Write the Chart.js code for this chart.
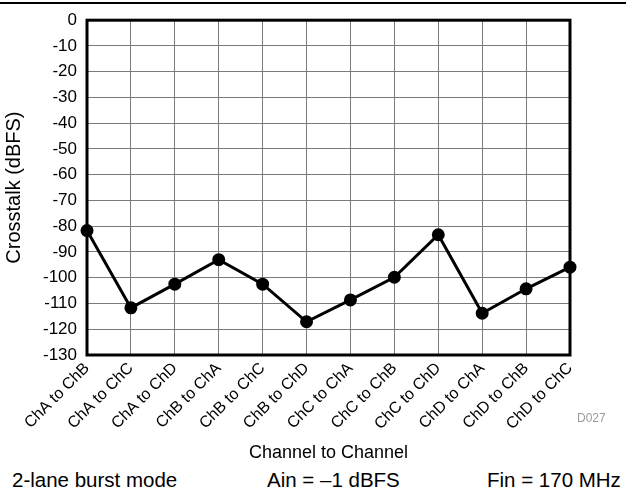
<!DOCTYPE html>
<html>
<head>
<meta charset="utf-8">
<script src="https://cdn.jsdelivr.net/npm/chart.js@4"></script>
<style>
  body { margin: 0; background: #fff; font-family: "Liberation Sans", Arial, sans-serif; }
  #wrap { position: relative; width: 626px; height: 491px; overflow: hidden; }
  #topline { position: absolute; left: 0; top: 2px; width: 626px; border-top: 2px solid #000; }
  #chartBox { position: absolute; left: 0; top: 0; width: 626px; height: 466px; }
  .note { position: absolute; font-size: 20.5px; line-height: 1; color: #000; top: 470px; white-space: nowrap; }
  #code { position: absolute; left: 577px; top: 412px; font-size: 12px; line-height: 1; color: #999; }
</style>
</head>
<body>
<div id="wrap">
  <div id="topline"></div>
  <div id="chartBox"><canvas id="crosstalkChart"></canvas></div>
  <div id="code">D027</div>
  <div class="note" style="left:12px">2-lane burst mode</div>
  <div class="note" style="left:267px">Ain = –1 dBFS</div>
  <div class="note" style="left:487px">Fin = 170 MHz</div>
</div>
<script>
// channel pairs and measured crosstalk (dBFS)
const pairs = ['ChA to ChB', 'ChA to ChC', 'ChA to ChD', 'ChB to ChA', 'ChB to ChC', 'ChB to ChD',
               'ChC to ChA', 'ChC to ChB', 'ChC to ChD', 'ChD to ChA', 'ChD to ChB', 'ChD to ChC'];
const crosstalk = [-81.7, -111.7, -102.5, -93.0, -102.5, -117.1, -108.6, -99.8, -83.3, -113.8, -104.3, -95.9];
const yMin = -130;
const yMax = 0;
const yStep = 10;

const frame = {
  id: 'frame',
  afterDraw(chart) {
    const { ctx, chartArea: a } = chart;
    ctx.save();
    ctx.strokeStyle = '#000';
    ctx.lineWidth = 3;
    ctx.strokeRect(a.left, a.top, a.right - a.left, a.bottom - a.top);
    ctx.restore();
  }
};

const ctx = document.getElementById('crosstalkChart').getContext('2d');
new Chart(ctx, {
  type: 'line',
  data: {
    labels: pairs,
    datasets: [{
      data: crosstalk,
      borderColor: '#000',
      backgroundColor: '#000',
      borderWidth: 3,
      pointRadius: 5,
      fill: false,
      tension: 0
    }]
  },
  options: {
    responsive: true,
    maintainAspectRatio: false,
    animation: false,
    layout: { padding: { top: 16, right: 56, left: 0, bottom: 0 } },
    plugins: { legend: { display: false }, tooltip: { enabled: false } },
    scales: {
      x: {
        offset: false,
        grid: { color: '#7a7a7a', lineWidth: 1, drawTicks: false },
        border: { display: false },
        ticks: {
          autoSkip: false, maxRotation: 45, minRotation: 45, padding: 4,
          color: '#000', font: { family: 'Liberation Sans', size: 16 }
        },
        title: {
          display: true, text: 'Channel to Channel', color: '#000',
          font: { family: 'Liberation Sans', size: 18 }, padding: { top: 2, bottom: 2 }
        },
        afterFit(scale) { scale.height = 111; }
      },
      y: {
        min: yMin, max: yMax,
        grid: { color: '#7a7a7a', lineWidth: 1, drawTicks: false },
        border: { display: false },
        ticks: {
          stepSize: yStep, padding: 10, color: '#000',
          font: { family: 'Liberation Sans', size: 17 }
        },
        title: {
          display: true, text: 'Crosstalk (dBFS)', color: '#000',
          font: { family: 'Liberation Sans', size: 20 }, padding: { top: 2, bottom: 2 }
        },
        afterFit(scale) { scale.width = 87; }
      }
    }
  },
  plugins: [frame]
});
</script>
</body>
</html>
